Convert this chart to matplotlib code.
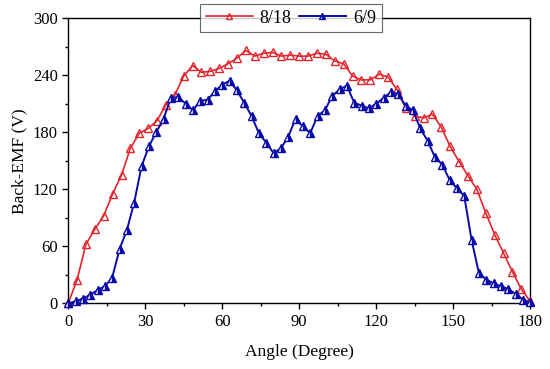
import matplotlib.pyplot as plt
from matplotlib.ticker import MultipleLocator

# 8/18 machine: 53 samples over 0-180 deg
angle_818 = [0, 3.5, 6.9, 10.4, 13.8, 17.3, 20.8, 24.2, 27.7, 31.2, 34.6, 38.1,
             41.5, 45, 48.5, 51.9, 55.4, 58.8, 62.3, 65.8, 69.2, 72.7, 76.2, 79.6,
             83.1, 86.5, 90, 93.5, 96.9, 100.4, 103.8, 107.3, 110.8, 114.2, 117.7,
             121.2, 124.6, 128.1, 131.5, 135, 138.5, 141.9, 145.4, 148.8, 152.3,
             155.8, 159.2, 162.7, 166.2, 169.6, 173.1, 176.5, 180]
emf_818 = [0, 25, 62, 78, 92, 115, 135, 163, 179, 184, 192, 209,
           219, 239, 250, 243, 244, 247, 252, 258, 266, 260, 263, 264,
           260, 261, 260, 260, 263, 262, 255, 252, 239, 235, 235,
           241, 238, 225, 205, 197, 195, 199, 185, 165, 149,
           134, 120, 95, 72, 53, 33, 15, 2]

# 6/9 machine: 64 samples over 0-180 deg
angle_69 = [0, 2.86, 5.71, 8.57, 11.43, 14.29, 17.14, 20, 22.86, 25.71, 28.57,
            31.43, 34.29, 37.14, 40, 42.86, 45.71, 48.57, 51.43, 54.29, 57.14,
            60, 62.86, 65.71, 68.57, 71.43, 74.29, 77.14, 80, 82.86, 85.71,
            88.57, 91.43, 94.29, 97.14, 100, 102.86, 105.71, 108.57, 111.43,
            114.29, 117.14, 120, 122.86, 125.71, 128.57, 131.43, 134.29, 137.14,
            140, 142.86, 145.71, 148.57, 151.43, 154.29, 157.14, 160, 162.86,
            165.71, 168.57, 171.43, 174.29, 177.14, 180]
emf_69 = [0, 2, 5, 9, 14, 18, 27, 57, 77, 106, 144,
          165, 180, 194, 216, 217, 210, 203, 213, 214, 223,
          230, 234, 224, 211, 197, 179, 169, 158, 163, 175,
          194, 186, 179, 197, 203, 218, 225, 229, 211,
          208, 205, 210, 216, 222, 220, 208, 203, 184,
          171, 154, 146, 130, 121, 113, 67, 32, 25,
          21, 18, 15, 10, 4, 1]

plt.rcParams['font.family'] = ['Liberation Serif', 'DejaVu Serif']

red = '#e3262d'
blue = '#0a0aa8'

fig = plt.figure(figsize=(5.5, 3.69), dpi=100)
ax = fig.add_axes([0.124, 0.178, 0.840, 0.773])

ax.plot(angle_818, emf_818, color=red, lw=1.2, marker='^', ms=5.5,
        mfc='none', mec=red, mew=1.0, label='8/18', clip_on=False, zorder=3)
ax.plot(angle_69, emf_69, color=blue, lw=1.4, marker='^', ms=5.5,
        fillstyle='right', mfc=blue, mfcalt='white', mec=blue, mew=1.0,
        label='6/9', clip_on=False, zorder=4)

ax.set_xlim(0, 180)
ax.set_ylim(0, 300)
ax.xaxis.set_major_locator(MultipleLocator(30))
ax.xaxis.set_minor_locator(MultipleLocator(15))
ax.yaxis.set_major_locator(MultipleLocator(60))
ax.yaxis.set_minor_locator(MultipleLocator(30))
ax.tick_params(which='both', direction='out', top=False, right=False,
               labelsize=12, width=1.0)
ax.tick_params(which='major', length=4)
ax.tick_params(which='minor', length=2.5)
for s in ax.spines.values():
    s.set_linewidth(1.0)

ax.set_xlabel('Angle (Degree)', fontsize=12.5, labelpad=10)
ax.set_ylabel('Back-EMF (V)', fontsize=12.5, labelpad=4)

leg = ax.legend(loc='center', bbox_to_anchor=(0.482, 1.0), ncol=2,
                fontsize=13, frameon=True, fancybox=False, edgecolor='#444444',
                handlelength=2.6, handletextpad=0.4, columnspacing=0.4,
                borderpad=0.3, markerscale=0.75)
leg.get_frame().set_linewidth(0.8)
leg.set_zorder(10)

fig.savefig('out.png', dpi=100)
